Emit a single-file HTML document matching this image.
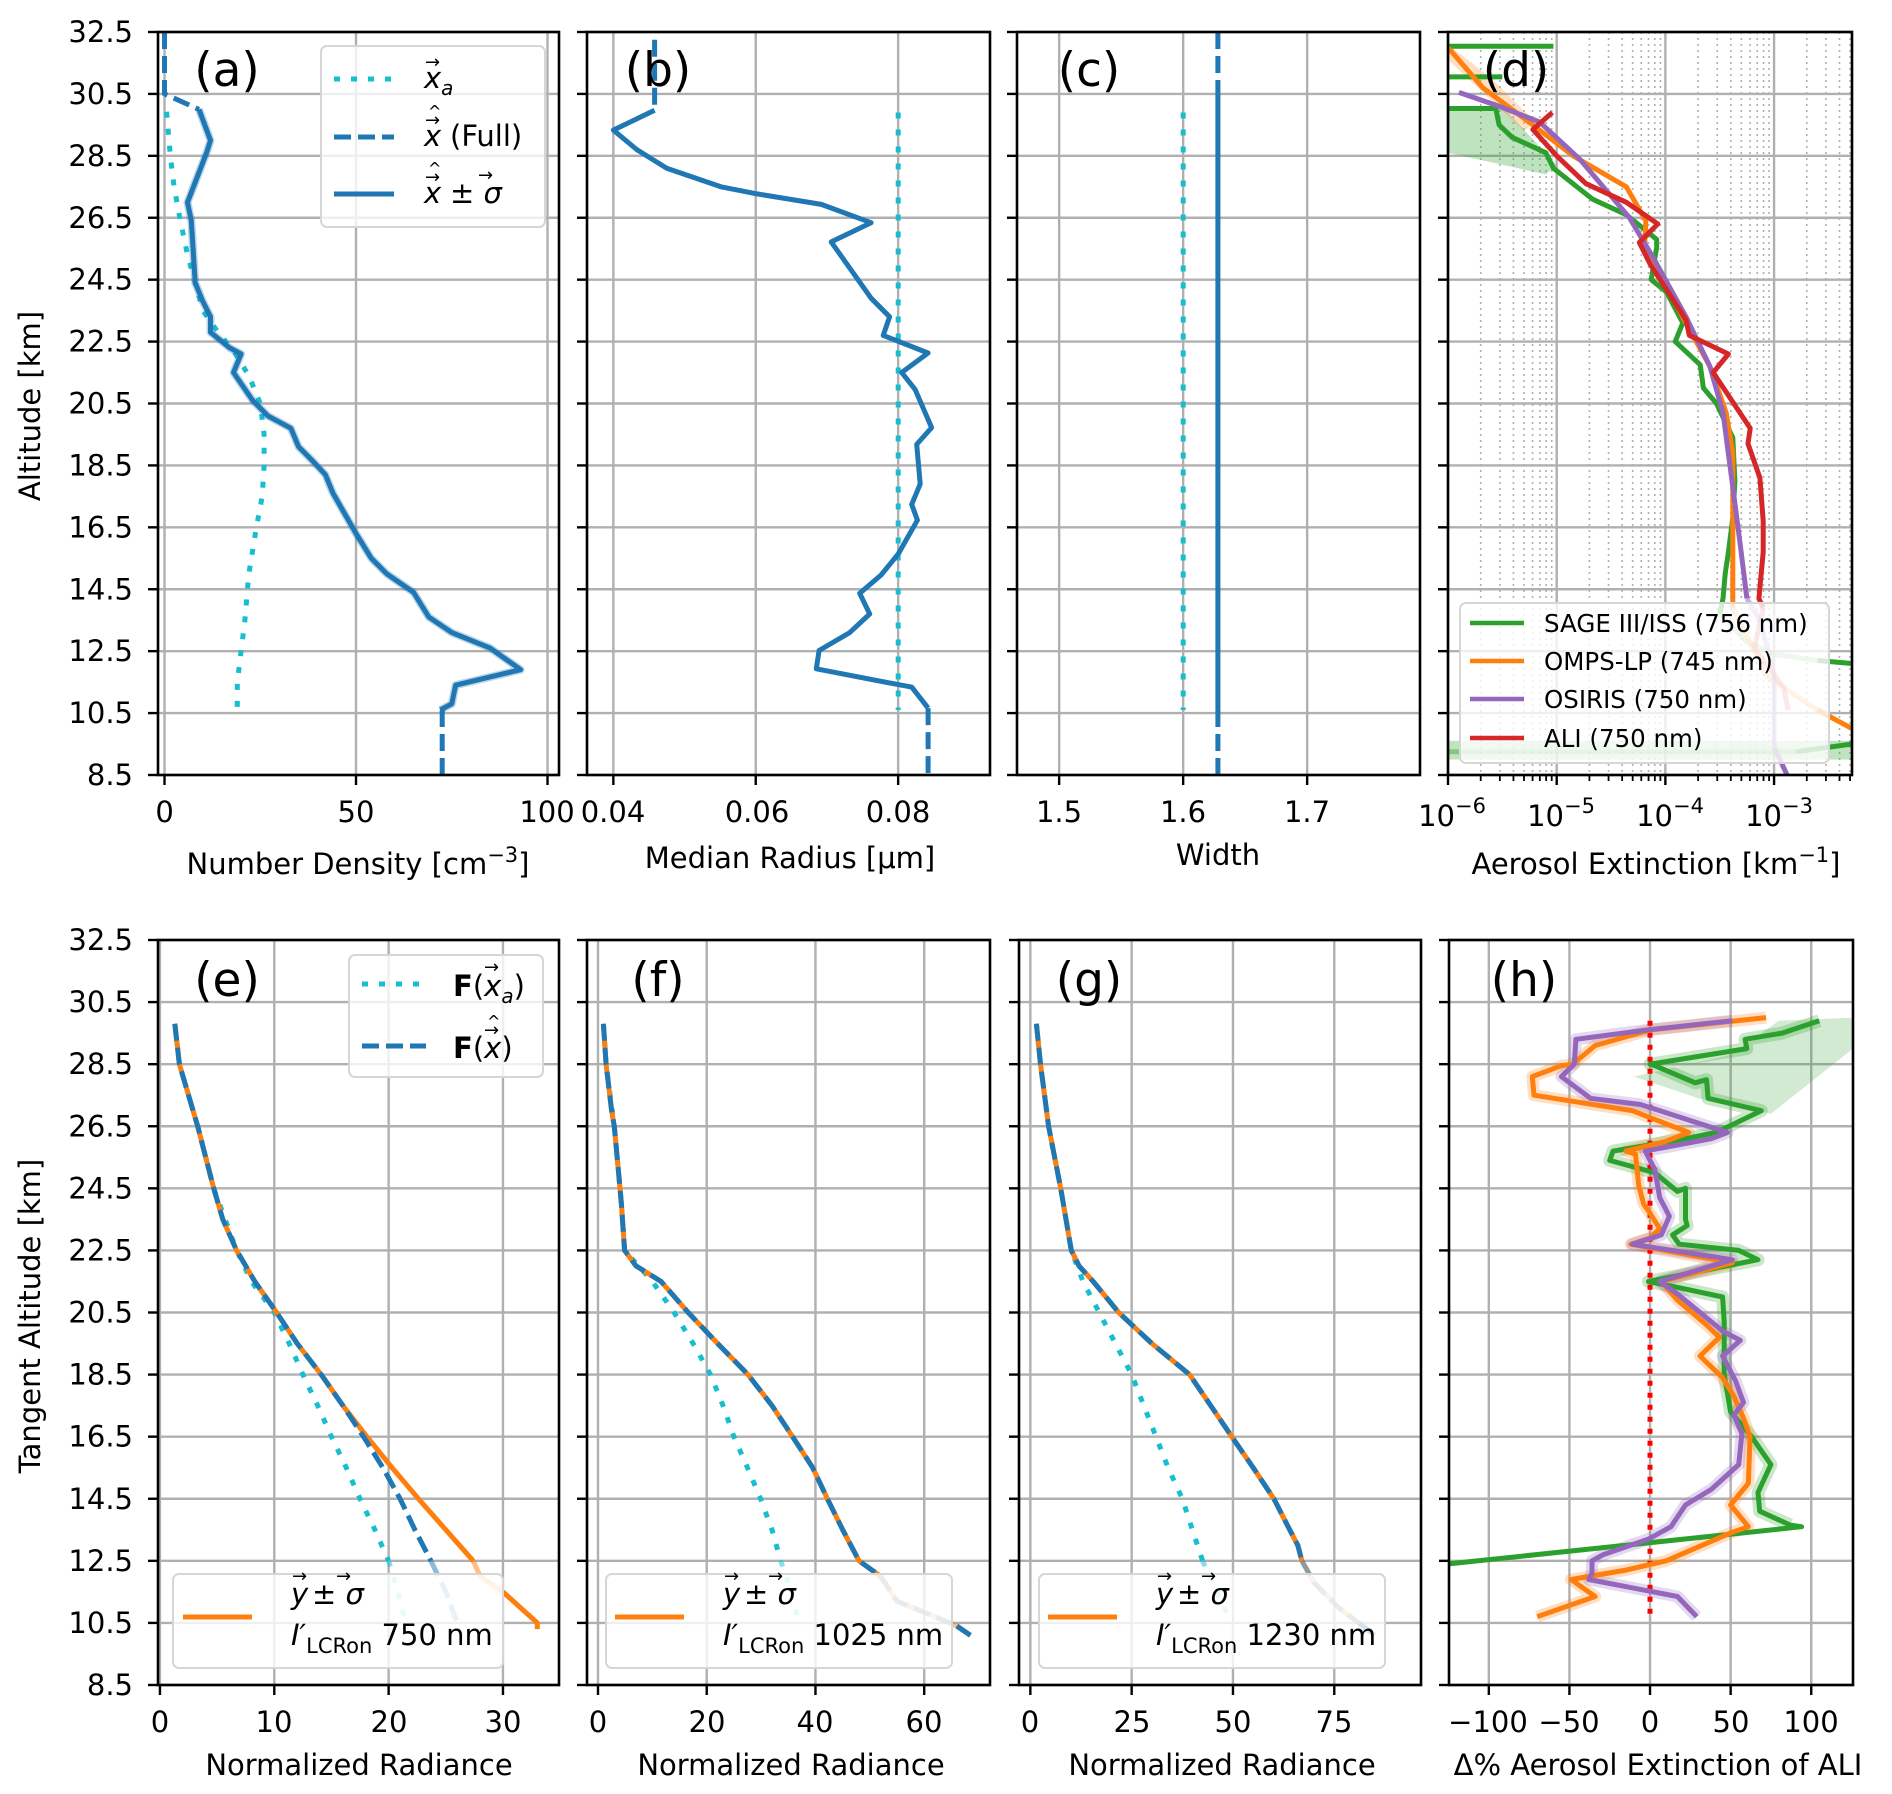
<!DOCTYPE html>
<html><head><meta charset="utf-8">
<style>
html,body{margin:0;padding:0;background:#fff;}
svg{display:block;font-family:"DejaVu Sans","Liberation Sans",sans-serif;}
.t{font-size:29px;fill:#000;}
.pl{font-size:47px;fill:#000;}
.lg{font-size:29px;fill:#000;}
</style></head>
<body>
<svg id="s" xmlns="http://www.w3.org/2000/svg" width="1892" height="1794" viewBox="0 0 1892 1794">
<rect width="1892" height="1794" fill="#fff"/>
<g id="grid"></g>
<g id="series"></g>
<g id="frame"></g>
<g id="labels">
<g class="t" text-anchor="end" dominant-baseline="central">
<text x="133" y="32">32.5</text><text x="133" y="93.9">30.5</text><text x="133" y="155.8">28.5</text><text x="133" y="217.8">26.5</text><text x="133" y="279.7">24.5</text><text x="133" y="341.6">22.5</text><text x="133" y="403.5">20.5</text><text x="133" y="465.4">18.5</text><text x="133" y="527.3">16.5</text><text x="133" y="589.3">14.5</text><text x="133" y="651.2">12.5</text><text x="133" y="713.1">10.5</text><text x="133" y="775">8.5</text>
<text x="133" y="940">32.5</text><text x="133" y="1002.1">30.5</text><text x="133" y="1064.2">28.5</text><text x="133" y="1126.3">26.5</text><text x="133" y="1188.3">24.5</text><text x="133" y="1250.4">22.5</text><text x="133" y="1312.5">20.5</text><text x="133" y="1374.6">18.5</text><text x="133" y="1436.7">16.5</text><text x="133" y="1498.8">14.5</text><text x="133" y="1560.8">12.5</text><text x="133" y="1622.9">10.5</text><text x="133" y="1685">8.5</text>
</g>
<g class="t" text-anchor="middle">
<text x="164.6" y="822">0</text><text x="356" y="822">50</text><text x="547" y="822">100</text>
<text x="613" y="822">0.04</text><text x="757" y="822">0.06</text><text x="898" y="822">0.08</text>
<text x="1059" y="822">1.5</text><text x="1183" y="822">1.6</text><text x="1307" y="822">1.7</text>
<text x="1452" y="826">10<tspan font-size="21" dy="-13">−6</tspan></text>
<text x="1561" y="826">10<tspan font-size="21" dy="-13">−5</tspan></text>
<text x="1670" y="826">10<tspan font-size="21" dy="-13">−4</tspan></text>
<text x="1779" y="826">10<tspan font-size="21" dy="-13">−3</tspan></text>
<text x="358" y="874">Number Density [cm<tspan font-size="21" dy="-12">−3</tspan><tspan dy="12">]</tspan></text>
<text x="790" y="868">Median Radius [μm]</text>
<text x="1218" y="865">Width</text>
<text x="1656" y="874">Aerosol Extinction [km<tspan font-size="21" dy="-12">−1</tspan><tspan dy="12">]</tspan></text>
<text x="160" y="1732">0</text><text x="274" y="1732">10</text><text x="389" y="1732">20</text><text x="503" y="1732">30</text>
<text x="598" y="1732">0</text><text x="707" y="1732">20</text><text x="815" y="1732">40</text><text x="924" y="1732">60</text>
<text x="1030" y="1732">0</text><text x="1132" y="1732">25</text><text x="1233" y="1732">50</text><text x="1334" y="1732">75</text>
<text x="1488" y="1732">−100</text><text x="1569" y="1732">−50</text><text x="1650" y="1732">0</text><text x="1731" y="1732">50</text><text x="1811" y="1732">100</text>
<text x="359" y="1775">Normalized Radiance</text>
<text x="791" y="1775">Normalized Radiance</text>
<text x="1222" y="1775">Normalized Radiance</text>
<text x="1658" y="1775">Δ% Aerosol Extinction of ALI</text>
</g>
<text class="t" transform="translate(40,406) rotate(-90)" text-anchor="middle">Altitude [km]</text>
<text class="t" transform="translate(40,1316) rotate(-90)" text-anchor="middle">Tangent Altitude [km]</text>
<g class="pl" text-anchor="middle">
<text x="227" y="86">(a)</text><text x="658" y="86">(b)</text><text x="1089" y="86">(c)</text><text x="1516" y="86">(d)</text>
<text x="227" y="996">(e)</text><text x="658" y="996">(f)</text><text x="1089" y="996">(g)</text><text x="1524" y="996">(h)</text>
</g>
</g>
<g id="legends">
<rect x="321" y="46" width="224" height="181" rx="6" fill="#fff" fill-opacity="0.8" stroke="#d6d6d6" stroke-width="2"/>
<line x1="334" y1="79" x2="394" y2="79" stroke="#17becf" stroke-width="5" stroke-dasharray="6,11"/>
<line x1="334" y1="137" x2="394" y2="137" stroke="#1f77b4" stroke-width="5" stroke-dasharray="17,7"/>
<line x1="334" y1="194" x2="394" y2="194" stroke="#1f77b4" stroke-width="5"/>
<g class="lg">
<text x="424" y="88" font-style="italic">x<tspan font-size="20" dy="7">a</tspan></text>
<text x="425" y="68" font-size="18">→</text>
<text x="424" y="146" font-style="italic">x</text><text x="425" y="126" font-size="18">→</text><text x="428" y="117" font-size="16">^</text>
<text x="450" y="146">(Full)</text>
<text x="424" y="203" font-style="italic">x</text><text x="425" y="183" font-size="18">→</text><text x="428" y="174" font-size="16">^</text>
<text x="450" y="203">± <tspan font-style="italic">σ</tspan></text><text x="478" y="181" font-size="18">→</text>
</g>
<rect x="1460" y="603" width="369" height="160" rx="6" fill="#fff" fill-opacity="0.8" stroke="#d6d6d6" stroke-width="2"/>
<line x1="1470" y1="623" x2="1524" y2="623" stroke="#2ca02c" stroke-width="4.5"/>
<line x1="1470" y1="661" x2="1524" y2="661" stroke="#ff7f0e" stroke-width="4.5"/>
<line x1="1470" y1="699" x2="1524" y2="699" stroke="#9467bd" stroke-width="4.5"/>
<line x1="1470" y1="738" x2="1524" y2="738" stroke="#d62728" stroke-width="4.5"/>
<g style="font-size:24.5px">
<text x="1544" y="632">SAGE III/ISS (756 nm)</text>
<text x="1544" y="670">OMPS-LP (745 nm)</text>
<text x="1544" y="708">OSIRIS (750 nm)</text>
<text x="1544" y="747">ALI (750 nm)</text>
</g>
<rect x="349" y="955" width="194" height="122" rx="6" fill="#fff" fill-opacity="0.8" stroke="#d6d6d6" stroke-width="2"/>
<line x1="362" y1="984" x2="426" y2="984" stroke="#17becf" stroke-width="5" stroke-dasharray="6,11"/>
<line x1="362" y1="1046" x2="426" y2="1046" stroke="#1f77b4" stroke-width="5" stroke-dasharray="17,7"/>
<g class="lg">
<text x="453" y="996"><tspan font-weight="bold">F</tspan>(<tspan font-style="italic">x</tspan><tspan font-size="20" dy="7" font-style="italic">a</tspan><tspan dy="-7">)</tspan></text>
<text x="484" y="973" font-size="18">→</text>
<text x="453" y="1058"><tspan font-weight="bold">F</tspan>(<tspan font-style="italic">x</tspan>)</text>
<text x="484" y="1036" font-size="18">→</text><text x="487" y="1027" font-size="16">^</text>
</g>
<g id="lowleg"></g>
</g>
</svg>
<script>
(function(){
var NS="http://www.w3.org/2000/svg";
function mk(parent,tag,a){var e=document.createElementNS(NS,tag);for(var k in a)e.setAttribute(k,a[k]);document.getElementById(parent).appendChild(e);return e;}
function P(x0,x1,v0,v1,top,bot){return {x0:x0,x1:x1,top:top,bot:bot,
 X:function(v){return x0+(v-v0)/(v1-v0)*(x1-x0);},
 Y:function(a){return top+(32.5-a)/24*(bot-top);}};}
var TT=32,TB=775,BT=940,BB=1685;
var A=P(158,559,-1.7,103,TT,TB),B=P(587,990,0.0363,0.0929,TT,TB),C=P(1017,1420,1.466,1.791,TT,TB),D=P(1448,1852,-6,-2.283,TT,TB);
var E=P(158,559,-0.17,34.9,BT,BB),F=P(587,990,-2.02,72.1,BT,BB),G=P(1019,1421,-2.8,96.4,BT,BB),H=P(1449,1853,-124.7,125.9,BT,BB);
var alts=[];for(var a=8.5;a<=32.6;a+=2)alts.push(a);
function grid(p,xs,minor){
 alts.forEach(function(a){var y=p.Y(a);mk('grid','line',{x1:p.x0,x2:p.x1,y1:y,y2:y,stroke:'#b0b0b0','stroke-width':2.4});
  mk('frame','line',{x1:p.x0-10,x2:p.x0,y1:y,y2:y,stroke:'#000','stroke-width':2.4});});
 (minor||[]).forEach(function(v){var x=p.X(v);mk('grid','line',{x1:x,x2:x,y1:p.top,y2:p.bot,stroke:'#b0b0b0','stroke-width':1.6,'stroke-dasharray':'2,4'});
  mk('frame','line',{x1:x,x2:x,y1:p.bot,y2:p.bot+6,stroke:'#000','stroke-width':1.8});});
 xs.forEach(function(v){var x=p.X(v);mk('grid','line',{x1:x,x2:x,y1:p.top,y2:p.bot,stroke:'#b0b0b0','stroke-width':2.4});
  mk('frame','line',{x1:x,x2:x,y1:p.bot,y2:p.bot+10,stroke:'#000','stroke-width':2.4});});
 mk('frame','rect',{x:p.x0,y:p.top,width:p.x1-p.x0,height:p.bot-p.top,fill:'none',stroke:'#000','stroke-width':2.6});
}
var mins=[];for(var d=-6;d<-2;d++)for(var k=2;k<10;k++){var l=d+Math.log10(k);if(l<-2.283)mins.push(l);}
grid(A,[0,50,100]);grid(B,[0.04,0.06,0.08]);grid(C,[1.5,1.6,1.7]);grid(D,[-6,-5,-4,-3],mins);
grid(E,[0,10,20,30]);grid(F,[0,20,40,60]);grid(G,[0,25,50,75]);grid(H,[-100,-50,0,50,100]);
function L(p,pts,col,o){o=o||{};var s=pts.map(function(q){return p.X(q[0]).toFixed(1)+','+p.Y(q[1]).toFixed(1);}).join(' ');
 var a={points:s,fill:'none',stroke:col,'stroke-width':o.w||5,'stroke-linejoin':'round','stroke-linecap':o.cap||'butt'};
 if(o.dash)a['stroke-dasharray']=o.dash;if(o.op)a['stroke-opacity']=o.op;mk('series','polyline',a);}
var DOT='6,11',DASH='17,7';
var cb='#1f77b4',cc='#17becf',co='#ff7f0e',cg='#2ca02c',cr='#d62728',cp='#9467bd';
L(A,[[19,10.7],[19,11.5],[20,12.5],[21,13.5],[22,15.0],[24,16.5],[25.5,17.5],[26,18.5],[26,19.5],[25,20.5],[22,21.4],[18,22.2],[14,22.8],[10,23.5],[8,24.4],[6,25.3],[4,26.5],[2.5,27.5],[1.5,28.5],[0.5,30.0]],cc,{dash:DOT});
L(A,[[0,32.5],[0,30.5],[9,30.0]],cb,{dash:DASH});
var aS=[[9,30.0],[12,29.0],[11,28.6],[6,27.0],[7,26.4],[8,24.4],[10,23.8],[12,23.3],[12,22.8],[17,22.3],[20,22.1],[18,21.5],[23,20.6],[27,20.1],[33,19.7],[35,19.1],[39,18.6],[42,18.2],[44,17.6],[50,16.3],[54,15.5],[58,15.0],[65,14.4],[69,13.6],[75,13.1],[85,12.6],[93,11.9],[76,11.4],[75,10.8],[72,10.6]];
L(A,aS,cb,{w:8,op:0.3});L(A,aS,cb);
L(A,[[72.5,10.6],[72.5,8.5]],cb,{dash:DASH});
L(B,[[0.08,29.9],[0.08,10.6]],cc,{dash:DOT});
L(B,[[0.0458,32.25],[0.0458,29.97]],cb,{dash:DASH});
L(B,[[0.0458,29.97],[0.04,29.33],[0.0433,28.7],[0.0475,28.1],[0.0551,27.5],[0.0602,27.27],[0.0692,26.93],[0.0762,26.34],[0.0706,25.72],[0.0762,23.9],[0.0788,23.3],[0.0779,22.7],[0.0842,22.13],[0.0805,21.5],[0.0824,20.95],[0.0847,19.72],[0.0826,19.18],[0.0831,17.9],[0.0819,17.24],[0.0827,16.73],[0.08,15.64],[0.0776,14.96],[0.0746,14.37],[0.076,13.7],[0.0732,13.1],[0.0689,12.52],[0.0685,11.93],[0.08,11.42],[0.0819,11.34],[0.0842,10.66]],cb);
L(B,[[0.0842,10.66],[0.0842,8.5]],cb,{dash:DASH});
L(C,[[1.6,29.9],[1.6,10.6]],cc,{dash:DOT});
L(C,[[1.628,32.5],[1.628,30.5]],cb,{dash:DASH});
L(C,[[1.628,30.5],[1.628,10.6]],cb);
L(C,[[1.628,10.6],[1.628,8.5]],cb,{dash:DASH});
function poly(p,pts,col,op){mk('series','polygon',{points:pts.map(function(q){return p.X(q[0]).toFixed(1)+','+p.Y(q[1]).toFixed(1);}).join(' '),fill:col,'fill-opacity':op});}
poly(D,[[-6,30.1],[-5.5,30.1],[-5.0,28.2],[-5.1,27.9],[-6,28.6]],cg,0.3);
poly(D,[[-6,9.6],[-2.283,9.6],[-2.283,9.0],[-6,9.0]],cg,0.3);
poly(D,[[-6,32.1],[-5.6,31.0],[-5.2,29.6],[-5.3,29.3],[-6,31.6]],co,0.25);
L(D,[[-6,32.04],[-5.03,32.04]],cg);L(D,[[-6,31.05],[-5.5,31.05]],cg);
L(D,[[-6,30.03],[-5.56,30.03],[-5.53,29.5],[-5.41,29.1],[-5.1,28.6],[-5.03,28.1],[-4.67,27.1],[-4.36,26.6],[-4.08,25.8],[-4.08,25.55],[-4.13,24.5],[-3.99,24.1],[-3.84,23.1],[-3.91,22.5],[-3.68,21.75],[-3.65,21.0],[-3.53,20.5],[-3.38,19.4],[-3.36,18.0],[-3.38,16.8],[-3.42,15.7],[-3.45,15.0],[-3.47,14.2],[-3.5,13.7]],cg);
L(D,[[-3.5,13.7],[-3.25,12.8],[-3.0,12.4],[-2.6,12.2]],cg,{op:0.4});L(D,[[-2.6,12.2],[-2.283,12.1]],cg);
L(D,[[-6,9.25],[-2.8,9.25]],cg,{op:0.4});L(D,[[-2.8,9.25],[-2.283,9.5]],cg);
L(D,[[-6,32.0],[-5.68,30.7],[-5.22,29.5],[-4.85,28.5],[-4.36,27.5],[-4.18,26.4],[-4.19,25.55],[-3.99,24.3],[-3.81,23.1],[-3.59,21.7],[-3.44,20.2],[-3.38,18.9],[-3.38,16.8],[-3.38,13.9]],co);
L(D,[[-3.38,13.9],[-3.07,11.7],[-2.6,10.6]],co,{op:0.5});L(D,[[-2.6,10.6],[-2.283,10.0]],co);
L(D,[[-5.9,30.55],[-5.53,30.1],[-5.16,29.6],[-4.79,28.4],[-4.33,26.5],[-4.11,25.2],[-3.81,23.3],[-3.59,21.7],[-3.47,20.2],[-3.38,17.8],[-3.31,15.9],[-3.25,14.2]],cp);
L(D,[[-3.25,14.2],[-3.13,13.5],[-3.0,11.8],[-3.0,9.4]],cp,{op:0.5});L(D,[[-3.0,9.4],[-2.88,8.5]],cp);
L(D,[[-5.04,29.9],[-5.22,29.35],[-5.0,28.5],[-4.73,27.6],[-4.36,27.0],[-4.07,26.3],[-4.24,25.7],[-4.14,25.0],[-3.81,23.2],[-3.78,22.7],[-3.42,22.1],[-3.56,21.5],[-3.22,19.7],[-3.24,19.2],[-3.13,18.1],[-3.1,16.7],[-3.1,15.7],[-3.14,14.2],[-3.1,13.9]],cr);
L(D,[[-3.1,13.9],[-3.18,12.6],[-2.91,11.3],[-2.87,10.6]],cr,{op:0.5});
var eU=[[1.3,29.8],[1.7,28.5],[2.5,27.5],[3.3,26.5],[4,25.5],[4.7,24.5],[5.5,23.5],[6.7,22.5],[7.5,22],[8.3,21.5],[10.2,20.5],[12,19.5],[14.1,18.5],[16,17.5]];
L(E,[[1.3,29.8],[1.7,28.5],[3.3,26.5],[4.7,24.5],[6.7,22.5],[8,21.5],[10,20.5],[11.3,19.5],[12.5,18.5],[13.8,17.5],[15,16.5],[16.3,15.5],[17.5,14.5],[18.8,13.5],[20,12.5]],cc,{dash:DOT});
L(E,[[20,12.5],[20.8,11.5],[21.5,10.5]],cc,{dash:DOT,op:0.5});
L(E,eU.concat([[18.1,16.5],[20.3,15.5],[22.6,14.5],[25,13.5],[27.4,12.5]]),co);
L(E,[[27.4,12.5],[28,12],[30,11.5]],co,{op:0.5});L(E,[[30,11.5],[31.5,11],[33,10.5],[33,10.3]],co);
L(E,eU.concat([[17.8,16.5],[19.5,15.5],[21,14.5],[22.3,13.5],[23.7,12.5]]),cb,{dash:DASH});
L(E,[[23.7,12.5],[25,11.5],[26,10.5]],cb,{dash:DASH,op:0.5});
var fM=[[1,29.8],[1.5,28.5],[2.5,27],[3,26.5],[3.8,25],[4.3,24],[4.9,22.5],[7,22],[11.6,21.5],[16.6,20.5],[22,19.5],[27.6,18.5],[32,17.5],[35.8,16.5],[39.5,15.5],[42.2,14.5],[45,13.5],[48,12.5],[52,12]];
L(F,[[1,29.8],[1.5,28.5],[3,26.5],[4.3,24],[4.9,22.5],[10,21.5],[14,20.5],[17.5,19.5],[20.7,18.5],[23,17.5],[25,16.5],[27.5,15.5],[29.9,14.5],[32,13.5],[33.6,12.5]],cc,{dash:DOT});
L(F,[[33.6,12.5],[35.5,11.5],[37,10.5]],cc,{dash:DOT,op:0.5});
L(F,fM,co);L(F,[[52,12],[55,11.2],[62,10.7],[66,10.4]],co,{op:0.5});L(F,[[66,10.4],[68.5,10.1]],co);
L(F,fM,cb,{dash:DASH});L(F,[[52,12],[55,11.2],[62,10.7],[66,10.4]],cb,{dash:DASH,op:0.5});L(F,[[66,10.4],[68.5,10.1]],cb,{dash:DASH});
var gM=[[1.5,29.8],[2.5,28.5],[4.5,26.5],[7.5,24.5],[10.1,22.5],[12,22],[15.5,21.5],[21.8,20.5],[30,19.5],[39.3,18.5],[44.5,17.5],[49.7,16.5],[55,15.5],[60.1,14.5],[64,13.5],[66,13],[67,12.5]];
L(G,[[1.5,29.8],[2.5,28.5],[4.5,26.5],[7.5,24.5],[10.1,22.5],[13,21.5],[17,20.5],[21,19.5],[25,18.5],[28,17.5],[31,16.5],[34,15.5],[37.5,14.5],[40,13.5],[42.5,12.5]],cc,{dash:DOT});
L(G,[[42.5,12.5],[46,11.5],[49.6,10.5]],cc,{dash:DOT,op:0.5});
var gL=[[67,12.5],[70,11.8],[76,11],[81,10.5]];
L(G,gM,co);L(G,gL,co,{op:0.5});L(G,[[81,10.5],[85,10.1]],co);
L(G,gM,cb,{dash:DASH});L(G,gL,cb,{dash:DASH,op:0.5});L(G,[[81,10.5],[85,10.1]],cb,{dash:DASH});
var hG=[[105,29.9],[82,29.5],[59,29.3],[60,29.0],[0,28.5],[3,28.45],[28,27.9],[35,28.0],[36,27.4],[69,27.0],[41,26.3],[22,26.1],[-23,25.7],[-25,25.4],[3,25.0],[17,24.4],[22,24.5],[22,23.5],[23,23.3],[14,23.0],[18,22.7],[55,22.5],[67,22.2],[-1,21.5],[18,21.3],[45,21.0],[46,20.2],[46,18.5],[50,17.3],[63,16.5],[75,15.6],[67,14.7],[68,14.1],[87,13.65],[94,13.6],[-125,12.4]];
var hO=[[72,30.0],[0,29.6],[-34,29.1],[-48,28.5],[-55,28.45],[-73,28.1],[-72,27.5],[-11,27.0],[24,26.3],[9,26.0],[-15,25.7],[-9,25.6],[-7,24.6],[-4,24.0],[0,23.7],[6,23.2],[0,22.9],[-12,22.7],[51,22.1],[7,21.5],[17,20.9],[35,20.1],[43,19.7],[31,19.1],[45,18.4],[52,17.8],[58,17.1],[62,16.5],[61,15.0],[50,14.3],[61,13.6],[50,13.4],[10,12.5],[-15,12.2],[-49,11.9],[-34,11.35],[-70,10.7]];
var hP=[[51,29.9],[-2,29.6],[-46,29.3],[-47,28.5],[-55,28.1],[-37,27.4],[-6,27.2],[48,26.3],[38,26.1],[-3,25.7],[3,25.1],[6,24.2],[12,23.6],[7,23.0],[-11,22.7],[51,22.2],[6,21.5],[17,21.1],[45,19.9],[56,19.6],[45,19.1],[53,18.3],[58,17.6],[52,17.2],[57,16.6],[55,15.6],[38,14.8],[22,14.3],[13,13.6],[-1,13.2],[-29,12.7],[-36,12.5],[-36,12.1],[-38,11.9],[17,11.35],[29,10.7]];
L(H,hG.slice(0,34),cg,{w:13,op:0.25});L(H,hO,co,{w:12,op:0.25});L(H,hP,cp,{w:12,op:0.25});
poly(H,[[125.9,30.0],[80,29.9],[50,28.8],[-10,28.1],[30,27.4],[75,26.9],[125.9,29.0]],cg,0.22);
L(H,[[0,29.9],[0,10.7]],'#ff0000',{dash:'5,7'});
L(H,hG,cg);L(H,hO,co);L(H,hP,cp);
function lowleg(x0,w){mk('lowleg','rect',{x:x0,y:1574,width:w,height:94,rx:6,fill:'#fff','fill-opacity':0.8,stroke:'#d6d6d6','stroke-width':2});}
lowleg(173,330);lowleg(606,346);lowleg(1039,346);
})();
</script>
<div style="position:absolute;left:0;top:0;width:1892px;height:1794px;pointer-events:none;">
<svg width="1892" height="1794" style="position:absolute;left:0;top:0" xmlns="http://www.w3.org/2000/svg">
<g font-family="DejaVu Sans, Liberation Sans, sans-serif" font-size="29">
<line x1="183" y1="1617" x2="252" y2="1617" stroke="#ff7f0e" stroke-width="5"/>
<text x="291" y="1604" font-style="italic">y</text><text x="292" y="1582" font-size="18">→</text>
<text x="312" y="1604">± <tspan font-style="italic">σ</tspan></text><text x="336" y="1582" font-size="18">→</text>
<text x="291" y="1645" font-style="italic">I′<tspan font-style="normal" font-size="21" dy="8">LCRon</tspan><tspan font-style="normal" dy="-8"> 750 nm</tspan></text>
<line x1="615" y1="1617" x2="684" y2="1617" stroke="#ff7f0e" stroke-width="5"/>
<text x="723" y="1604" font-style="italic">y</text><text x="724" y="1582" font-size="18">→</text>
<text x="744" y="1604">± <tspan font-style="italic">σ</tspan></text><text x="768" y="1582" font-size="18">→</text>
<text x="723" y="1645" font-style="italic">I′<tspan font-style="normal" font-size="21" dy="8">LCRon</tspan><tspan font-style="normal" dy="-8"> 1025 nm</tspan></text>
<line x1="1048" y1="1617" x2="1117" y2="1617" stroke="#ff7f0e" stroke-width="5"/>
<text x="1156" y="1604" font-style="italic">y</text><text x="1157" y="1582" font-size="18">→</text>
<text x="1177" y="1604">± <tspan font-style="italic">σ</tspan></text><text x="1201" y="1582" font-size="18">→</text>
<text x="1156" y="1645" font-style="italic">I′<tspan font-style="normal" font-size="21" dy="8">LCRon</tspan><tspan font-style="normal" dy="-8"> 1230 nm</tspan></text>
</g>
</svg>
</div>
</body></html>
